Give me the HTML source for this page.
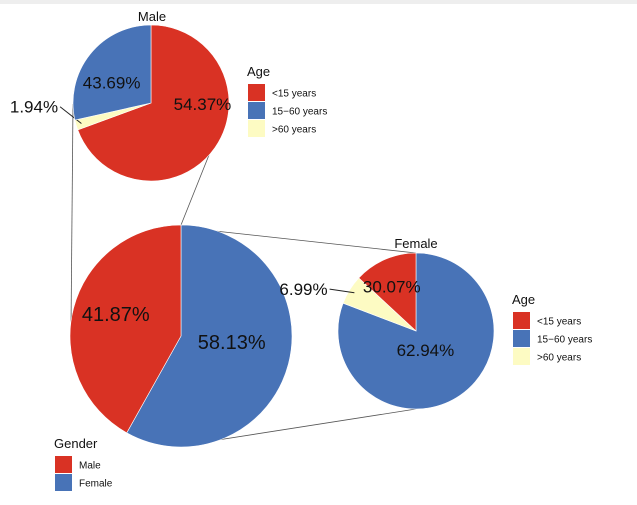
<!DOCTYPE html>
<html><head><meta charset="utf-8"><style>
html,body{margin:0;padding:0;background:#fff;}
svg{display:block;font-family:"Liberation Sans",Arial,sans-serif;}
</style></head><body>
<svg id="chart" width="637" height="505" viewBox="0 0 637 505">
<rect x="0" y="0" width="637" height="4" fill="#eeeeee"/>
<g id="conn" stroke="#555" stroke-width="0.8" fill="none">
<line x1="73" y1="104" x2="71" y2="328"/>
<line x1="209" y1="155" x2="181" y2="225"/>
<line x1="215" y1="231" x2="416" y2="253"/>
<line x1="205" y1="442" x2="416" y2="409"/>
</g>
<g id="pies"></g>
<g id="legends"></g>
</svg>
<script>
// Gender pie (big)
const genderCats = ["Female", "Male"];
const genderVals = [58.13, 41.87];
const genderLabels = ["58.13%", "41.87%"];
// Male pie (wedge sizes as drawn)
const maleCats = ["<15 years", ">60 years", "15-60 years"];
const maleVals = [69.4, 2.1, 28.5];
const maleLabels = ["54.37%", "1.94%", "43.69%"];
// Female pie (wedge sizes as drawn)
const femaleCats = ["15-60 years", ">60 years", "<15 years"];
const femaleVals = [80.8, 6.1, 13.1];
const femaleLabels = ["62.94%", "6.99%", "30.07%"];
const ageLegend = ["<15 years", "15\u221260 years", ">60 years"];
const genderLegend = ["Male", "Female"];

const COL = {"<15 years":"#d93224","15-60 years":"#4873b7",">60 years":"#fdfbc3","Male":"#d93224","Female":"#4873b7"};
const NS = "http://www.w3.org/2000/svg";
const pies = document.getElementById('pies');
const legends = document.getElementById('legends');
function mk(tag, attrs, parent){const e=document.createElementNS(NS,tag);for(const k in attrs)e.setAttribute(k,attrs[k]);parent.appendChild(e);return e;}
function pt(cx,cy,r,a){const t=a/180*Math.PI;return [cx+r*Math.sin(t),cy-r*Math.cos(t)];}

function drawPie(name,cx,cy,r,cats,vals,labels,labelSpec,fs){
  const g=mk('g',{},pies);
  
  
  const tot=vals.reduce((a,b)=>a+b,0);
  let a0=0;
  cats.forEach((c,i)=>{
    const a1=a0+vals[i]/tot*360;
    const p0=pt(cx,cy,r,a0),p1=pt(cx,cy,r,a1);
    const large=(a1-a0)>180?1:0;
    const p=mk('path',{d:`M${cx},${cy}L${p0[0]},${p0[1]}A${r},${r} 0 ${large} 1 ${p1[0]},${p1[1]}Z`,fill:COL[c],stroke:"#fff","stroke-width":"0.6"},g);
    
    
    const mid=(a0+a1)/2, s=labelSpec[i];
    let lx,ly;
    if(s.out){
      const e=pt(cx,cy,r*0.93,mid);
      const o=pt(cx,cy,r+s.out,mid+s.shift);
      const ln=mk('line',{x1:e[0],y1:e[1],x2:o[0],y2:o[1],stroke:"#222","stroke-width":"1"},g);
      
      
      lx=o[0]-2; ly=o[1];
      const t=mk('text',{x:lx,y:ly+fs*0.35,"font-size":fs,"text-anchor":"end",fill:"#111"},g);
      t.textContent=labels[i];
      
      
    } else {
      const q=pt(cx,cy,r*s.rf,mid+s.shift);
      const t=mk('text',{x:q[0],y:q[1]+fs*0.35,"font-size":fs,"text-anchor":"middle",fill:"#111"},g);
      t.textContent=labels[i];
      
      
    }
    a0=a1;
  });
}
drawPie('gender-pie',181,336,111,genderCats,genderVals,genderLabels,[{rf:0.46,shift:-8},{rf:0.62,shift:4}],20);
drawPie('male-pie',151,103,78,maleCats,maleVals,maleLabels,[{rf:0.66,shift:-34},{out:13,shift:14},{rf:0.57,shift:-11}],17);
drawPie('female-pie',416,331,78,femaleCats,femaleVals,femaleLabels,[{rf:0.27,shift:8},{out:18,shift:-6},{rf:0.65,shift:-5}],17);

function title(x,y,txt,fs,name){const t=mk('text',{x:x,y:y,"font-size":fs,"text-anchor":"middle",fill:"#111"},legends);t.textContent=txt;}
title(152,21,"Male",13,'male-pie-title');
title(416,248,"Female",13,'female-pie-title');

function legend(x,y,ttl,items,cols,name){
  const g=mk('g',{},legends);
  
  
  const t=mk('text',{x:x,y:y,"font-size":13,fill:"#111"},g);t.textContent=ttl;
  
  
  items.forEach((it,i)=>{
    const ry=y+8+i*18;
    const r=mk('rect',{x:x+1,y:ry,width:17,height:17,fill:cols[i]},g);
    
    
    const tx=mk('text',{x:x+25,y:ry+12.5,"font-size":10,fill:"#111"},g);tx.textContent=it;
    
    
  });
}
const ageCols=[COL["<15 years"],COL["15-60 years"],COL[">60 years"]];
legend(247,76,"Age",ageLegend,ageCols,'male-age-legend');
legend(512,304,"Age",ageLegend,ageCols,'female-age-legend');
legend(54,448,"Gender",genderLegend,[COL.Male,COL.Female],'gender-legend');
</script>
</body></html>
